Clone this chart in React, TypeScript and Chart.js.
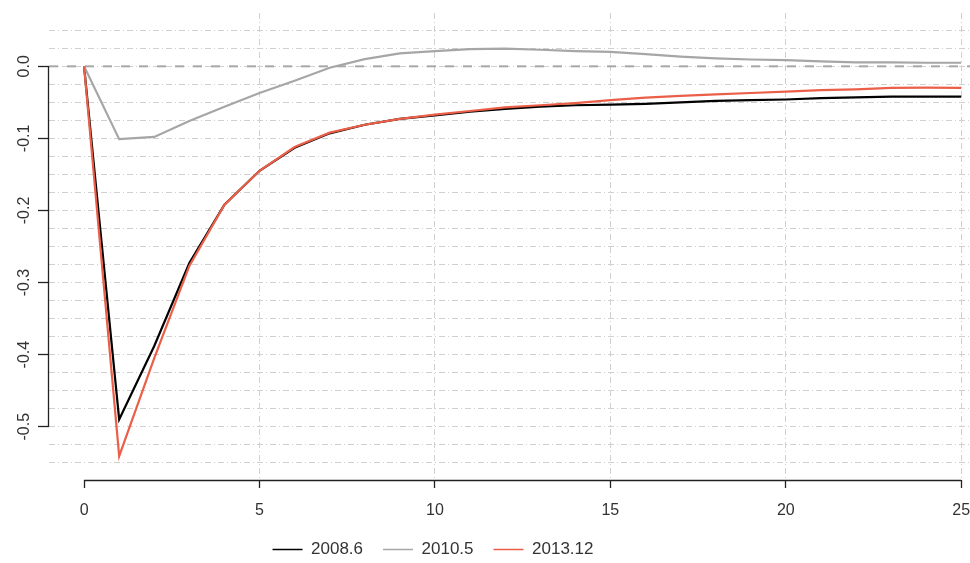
import React, { useEffect, useRef } from 'react';
import { Chart, registerables } from 'chart.js';

Chart.register(...registerables);

const periods = [0, 1, 2, 3, 4, 5, 6, 7, 8, 9, 10, 11, 12, 13, 14, 15, 16, 17, 18, 19, 20, 21, 22, 23, 24, 25];

const series2008 = [
  0, -0.49, -0.388, -0.273, -0.192, -0.145, -0.113, -0.093, -0.081, -0.073, -0.068, -0.063, -0.059,
  -0.056, -0.054, -0.053, -0.052, -0.05, -0.048, -0.047, -0.046, -0.044, -0.043, -0.042, -0.042, -0.042,
];

const series2010 = [
  0, -0.101, -0.098, -0.076, -0.056, -0.037, -0.02, -0.002, 0.01, 0.018, 0.021, 0.024, 0.0245,
  0.023, 0.021, 0.02, 0.017, 0.0135, 0.011, 0.0095, 0.0085, 0.007, 0.0055, 0.0055, 0.005, 0.005,
];

const series2013 = [
  0, -0.541, -0.405, -0.277, -0.192, -0.145, -0.112, -0.092, -0.081, -0.073, -0.067, -0.062, -0.057,
  -0.054, -0.051, -0.047, -0.0435, -0.041, -0.039, -0.037, -0.035, -0.033, -0.032, -0.03, -0.0295, -0.03,
];

const seriesLabels = ['2008.6', '2010.5', '2013.12'];
const seriesColors = ['#000000', '#A6A6A6', '#EB5F48'];

const xTickValues = [0, 5, 10, 15, 20, 25];
const xGridValues = [5, 10, 15, 20, 25];
const yTickValues = [0, -0.1, -0.2, -0.3, -0.4, -0.5];
const yGridValues = [
  0.05, 0.025, 0, -0.025, -0.05, -0.075, -0.1, -0.125, -0.15, -0.175, -0.2, -0.225, -0.25,
  -0.275, -0.3, -0.325, -0.35, -0.375, -0.4, -0.425, -0.45, -0.475, -0.5, -0.525, -0.55,
];

const near = (a: number, b: number) => Math.abs(a - b) < 1e-9;
const isYTick = (v: number) => yTickValues.some((t) => near(t, v));
const isXGrid = (v: number) => xGridValues.some((t) => near(t, v));

const FONT = "'Liberation Sans', Arial, sans-serif";

const rAxesPlugin = {
  id: 'rAxes',
  afterLayout(chart: any) {
    const lg = chart.legend;
    if (lg) {
      const h = lg.bottom - lg.top;
      lg.left = 0;
      lg.right = 866;
      lg.top = 521;
      lg.bottom = 521 + h;
    }
  },
  beforeDatasetsDraw(chart: any) {
    const { ctx, chartArea, scales } = chart;
    const x = scales.x;
    const y = scales.y;
    ctx.save();
    const y0 = y.getPixelForValue(0);
    ctx.strokeStyle = '#A8A8A8';
    ctx.lineWidth = 2;
    ctx.setLineDash([9, 9]);
    ctx.beginPath();
    ctx.moveTo(chartArea.left, y0);
    ctx.lineTo(chartArea.right, y0);
    ctx.stroke();
    ctx.setLineDash([]);
    ctx.strokeStyle = '#222222';
    ctx.lineWidth = 1.3;
    const xb = Math.round(chartArea.bottom) + 0.5;
    ctx.beginPath();
    ctx.moveTo(x.getPixelForValue(xTickValues[0]), xb);
    ctx.lineTo(x.getPixelForValue(xTickValues[xTickValues.length - 1]), xb);
    ctx.stroke();
    const yl = Math.round(chartArea.left) - 0.5;
    ctx.beginPath();
    ctx.moveTo(yl, y.getPixelForValue(yTickValues[0]));
    ctx.lineTo(yl, y.getPixelForValue(yTickValues[yTickValues.length - 1]));
    ctx.stroke();
    ctx.restore();
  },
};

export default function App() {
  const canvasRef = useRef<HTMLCanvasElement | null>(null);

  useEffect(() => {
    if (!canvasRef.current) return;
    const makeData = (arr: number[]) => periods.map((p, i) => ({ x: p, y: arr[i] }));
    const all = [series2008, series2010, series2013];
    const chart = new Chart(canvasRef.current, {
      type: 'line',
      data: {
        datasets: all.map((arr, i) => ({
          label: seriesLabels[i],
          data: makeData(arr),
          borderColor: seriesColors[i],
          backgroundColor: seriesColors[i],
          borderWidth: 2.2,
          pointRadius: 0,
          tension: 0,
          fill: false,
          order: 3 - i,
        })),
      },
      options: {
        animation: false,
        responsive: false,
        maintainAspectRatio: false,
        layout: { padding: { top: 13, left: 0, right: 0, bottom: 0 } },
        plugins: {
          tooltip: { enabled: false },
          legend: {
            position: 'bottom',
            labels: {
              usePointStyle: true,
              pointStyle: 'line',
              pointStyleWidth: 30,
              padding: 20,
              color: '#333333',
              font: { family: FONT, size: 17 },
              sort: (a: any, b: any) => a.datasetIndex - b.datasetIndex,
              generateLabels: (c: any) =>
                Chart.defaults.plugins.legend.labels.generateLabels(c).map((l: any) => ({
                  ...l,
                  lineWidth: 1.5,
                })),
            },
          },
        },
        scales: {
          x: {
            type: 'linear',
            min: -1,
            max: 25.25,
            afterBuildTicks: (axis: any) => {
              axis.ticks = xTickValues.map((v) => ({ value: v }));
            },
            afterFit: (axis: any) => {
              axis.height = 36;
              axis.paddingLeft = 0;
              axis.paddingRight = 0;
            },
            border: { display: false, dash: [6, 3, 1, 3] },
            grid: {
              color: (c: any) => (c.tick && isXGrid(c.tick.value) ? '#D0D0D0' : 'rgba(0,0,0,0)'),
              lineWidth: 1,
              tickLength: 8,
              tickColor: '#222222',
              tickWidth: 1.3,
            },
            ticks: {
              autoSkip: false,
              maxRotation: 0,
              padding: 13,
              color: '#333333',
              font: { family: FONT, size: 16 },
              callback: (v: any) => String(v),
            },
          },
          y: {
            type: 'linear',
            min: -0.574,
            max: 0.074,
            afterBuildTicks: (axis: any) => {
              axis.ticks = yGridValues.map((v) => ({ value: v }));
            },
            afterFit: (axis: any) => {
              axis.width = 49;
              axis.paddingTop = 0;
              axis.paddingBottom = 0;
            },
            border: { display: false, dash: [6, 3, 1, 3] },
            grid: {
              color: '#D0D0D0',
              lineWidth: 1,
              tickLength: 11,
              tickColor: (c: any) => (c.tick && isYTick(c.tick.value) ? '#222222' : 'rgba(0,0,0,0)'),
              tickWidth: 1.3,
            },
            ticks: {
              autoSkip: false,
              minRotation: 90,
              maxRotation: 90,
              crossAlign: 'center',
              padding: 0,
              color: '#333333',
              font: { family: FONT, size: 16 },
              callback: (v: any) => (isYTick(Number(v)) ? Number(v).toFixed(1) : ''),
            },
          },
        },
      } as any,
      plugins: [rAxesPlugin],
    });
    return () => chart.destroy();
  }, []);

  return (
    <div style={{ position: 'absolute', left: 0, top: 0, width: 970, height: 563, background: '#ffffff' }}>
      <canvas ref={canvasRef} width={970} height={563} style={{ display: 'block', width: 970, height: 563 }} />
    </div>
  );
}
